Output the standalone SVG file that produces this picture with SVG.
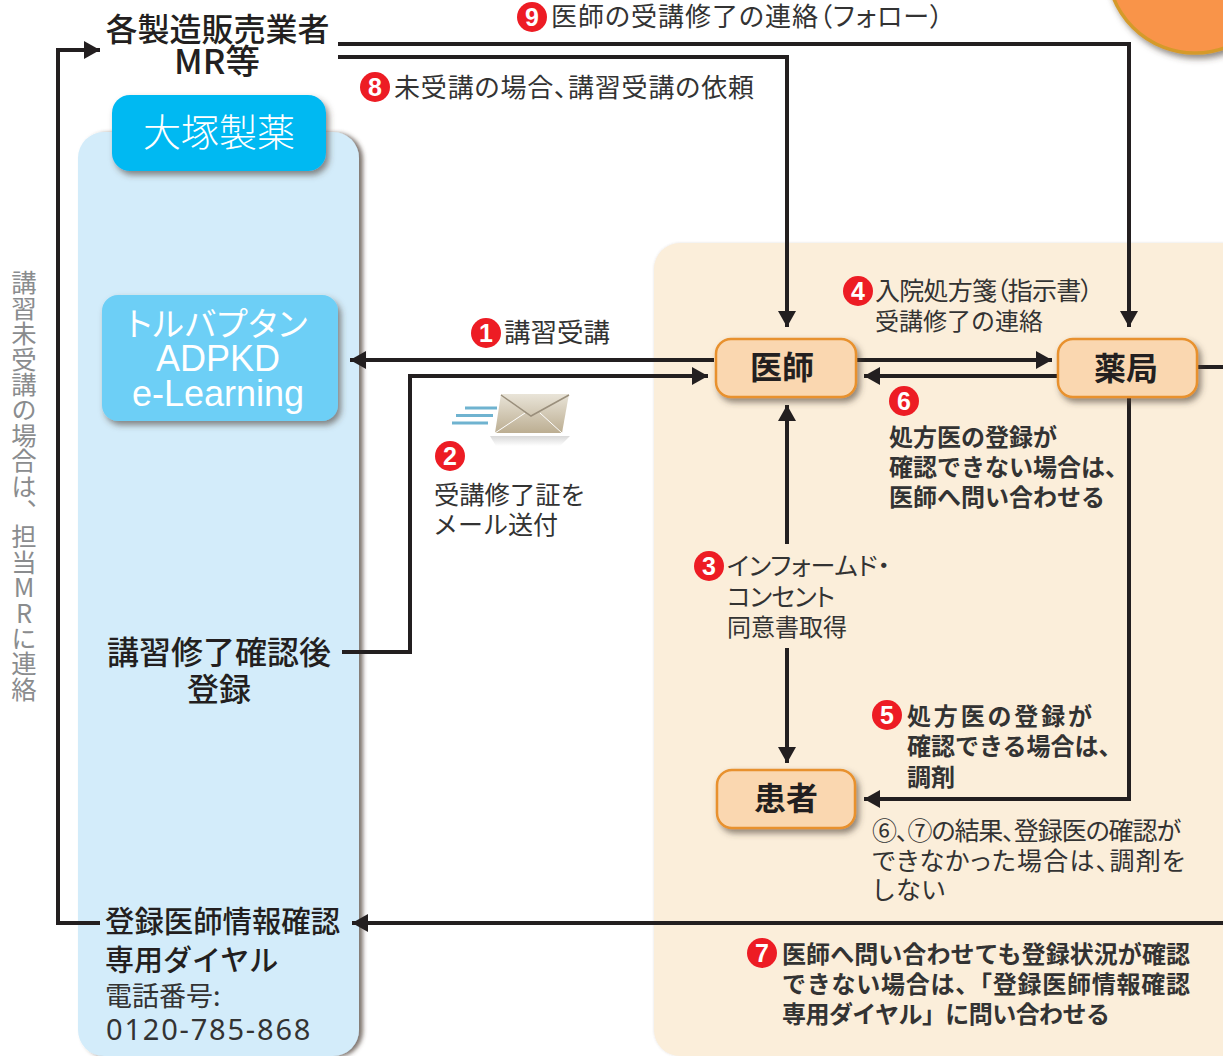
<svg xmlns="http://www.w3.org/2000/svg" width="1223" height="1056" viewBox="0 0 1223 1056">
<defs>
<filter id="sh" x="-20%" y="-20%" width="150%" height="150%"><feDropShadow dx="3" dy="4" stdDeviation="3" flood-color="#4a3a30" flood-opacity="0.6"/></filter>
<filter id="sp" x="-5%" y="-5%" width="110%" height="110%"><feDropShadow dx="4" dy="1" stdDeviation="2" flood-color="#4a3a30" flood-opacity="0.7"/></filter>
<filter id="so" x="-5%" y="-5%" width="110%" height="110%"><feDropShadow dx="0" dy="0" stdDeviation="1" flood-color="#6a5a50" flood-opacity="0.2"/></filter>
<linearGradient id="env" x1="0" y1="0" x2="0" y2="1"><stop offset="0" stop-color="#e9e4d8"/><stop offset="1" stop-color="#bcae92"/></linearGradient>
<linearGradient id="envs" x1="0" y1="0" x2="0" y2="1"><stop offset="0" stop-color="#d8d8d8"/><stop offset="1" stop-color="#fff"/></linearGradient>
<marker id="ah" markerUnits="userSpaceOnUse" markerWidth="18" markerHeight="20" refX="16" refY="9" orient="auto"><path d="M0 0L16 9L0 18Z" fill="#231f20"/></marker>
</defs>
<style>
text{font-family:"Noto Sans CJK JP","Noto Sans",sans-serif;fill:#231f20}
.c{fill:none;stroke:#231f20;stroke-width:4}
.a{marker-end:url(#ah)}
.n{fill:#ed1c24}
.d{fill:#fff;font-family:"Liberation Sans",sans-serif;font-weight:700;font-size:25px;text-anchor:middle}
.t{font-size:25px;fill:#333}
.p{font-feature-settings:"palt"}
.b{font-size:24px;font-weight:700;fill:#333}
.bx{fill:#fad7b0;stroke:#e8912d;stroke-width:2.5;filter:url(#sh)}
.nl{font-size:32px;font-weight:700;text-anchor:middle}
</style>
<g id="panels">
<rect id="otsuka-panel" x="78" y="132" width="281" height="924" rx="26" fill="#d3ecfa" filter="url(#sp)"/>
<rect id="hospital-panel" x="654" y="243" width="620" height="813" rx="26" fill="#fbeeda" filter="url(#so)"/>
<circle id="corner-circle" cx="1195" cy="-35" r="88" fill="#f9944a" stroke="#d59a2c" stroke-width="3.5" filter="url(#sh)"/>
</g>
<g id="connectors">
<path class="c a" d="M338 44H1129V327"/>
<path class="c a" d="M338 57H787V327"/>
<path class="c a" d="M100 923H58V50H100"/>
<path class="c a" d="M714 360H350"/>
<path class="c a" d="M342 652H410V376H708"/>
<path class="c a" d="M787 544V405"/>
<path class="c a" d="M787 648V763"/>
<path class="c a" d="M857 360H1052"/>
<path class="c a" d="M1057 376H864"/>
<path class="c" d="M1198 367H1223"/>
<path class="c a" d="M1129 397V799H864"/>
<path class="c a" d="M1223 923H352"/>
</g>
<g id="maker"><text x="217.500" y="41" class="nl" style="font-weight:500">各製造販売業者</text><text x="217" y="74" class="nl" style="font-weight:500;font-size:34.500px">MR等</text></g>
<g id="otsuka"><rect x="112" y="95" width="214" height="76" rx="18" fill="#00b9f2" filter="url(#sh)"/><text x="219" y="146" text-anchor="middle" font-size="38" style="fill:#fff;font-weight:300">大塚製薬</text></g>
<g id="elearning"><rect x="102" y="295" width="236" height="126" rx="16" fill="#6dcff6" filter="url(#sh)"/>
<text x="217" y="336" text-anchor="middle" font-size="33" class="p" style="fill:#fff" textLength="181">トルバプタン</text>
<text x="218" y="371" text-anchor="middle" font-size="36" style="fill:#fff;font-family:'Liberation Sans',sans-serif">ADPKD</text>
<text x="218" y="406" text-anchor="middle" font-size="36" style="fill:#fff;font-family:'Liberation Sans',sans-serif">e-Learning</text></g>
<g id="register"><text x="219" y="664" class="nl" style="font-weight:500">講習修了確認後</text><text x="219" y="701" class="nl" style="font-weight:500">登録</text></g>
<g id="dial">
<text x="105" y="932" font-size="29.400" font-weight="500">登録医師情報確認</text>
<text x="105" y="971" font-size="29" font-weight="500">専用ダイヤル</text>
<text x="105" y="1006" font-size="27" style="fill:#333">電話番号:</text>
<text x="106" y="1040" font-size="29" letter-spacing="1.800" style="fill:#333;font-family:'Noto Sans',sans-serif">0120-785-868</text>
</g>
<g id="doctor"><rect class="bx" x="716" y="339" width="140" height="58" rx="15"/><text x="782" y="379" class="nl">医師</text></g>
<g id="pharmacy"><rect class="bx" x="1058" y="339" width="139" height="58" rx="15"/><text x="1126" y="380" class="nl">薬局</text></g>
<g id="patient"><rect class="bx" x="717" y="770" width="138" height="58" rx="15"/><text x="786" y="810" class="nl">患者</text></g>
<g id="mail">
<path d="M490 436H570L560 446H496Z" fill="url(#envs)"/>
<path d="M501 394L569 394L562 433L495 433Z" fill="url(#env)"/>
<path d="M495 433L525 413M562 433L540 413" fill="none" stroke="#fff" stroke-width="1"/>
<path d="M501 395L531 416L569 395" fill="none" stroke="#9a8f7c" stroke-width="1.500"/>
<path d="M465 408H497M456 415.500H493M452 423H488" stroke="#6fb3d0" stroke-width="3"/>
</g>
<g id="labels">
<circle class="n" cx="486" cy="333" r="15"/><text class="d" x="486" y="342">1</text>
<text class="t" x="504" y="342" style="font-size:26.500px">講習受講</text>
<circle class="n" cx="450" cy="456" r="15"/><text class="d" x="450" y="465">2</text>
<text class="t" x="434" y="504" style="font-size:25.300px">受講修了証を</text><text class="t" x="433" y="534">メール送付</text>
<circle class="n" cx="709" cy="566" r="15"/><text class="d" x="709" y="575">3</text>
<text class="t p" x="727" y="575" textLength="163">インフォームド・</text><text class="t p" x="727" y="606" textLength="108">コンセント</text><text class="t" x="727" y="636" style="font-size:24px">同意書取得</text>
<circle class="n" cx="858" cy="291" r="15"/><text class="d" x="858" y="300">4</text>
<text class="t p" x="875" y="300" textLength="218">入院処方箋（指示書）</text><text class="t" x="875" y="330" style="font-size:24px">受講修了の連絡</text>
<circle class="n" cx="904" cy="401" r="15"/><text class="d" x="904" y="410">6</text>
<text class="b" x="889" y="446">処方医の登録が</text><text class="b" x="889" y="476">確認できない場合は、</text><text class="b" x="889" y="506">医師へ問い合わせる</text>
<circle class="n" cx="887" cy="715" r="15"/><text class="d" x="887" y="724">5</text>
<text class="b" x="907" y="725" textLength="185">処方医の登録が</text><text class="b" x="907" y="755">確認できる場合は、</text><text class="b" x="907" y="786">調剤</text>
<text class="t p" x="872" y="840" textLength="309">⑥、⑦の結果、登録医の確認が</text><text class="t p" x="872" y="870" textLength="313">できなかった場合は、調剤を</text><text class="t" x="871" y="899">しない</text>
<circle class="n" cx="762" cy="953" r="15"/><text class="d" x="762" y="962">7</text>
<text class="b" x="782" y="963" textLength="408">医師へ問い合わせても登録状況が確認</text><text class="b" x="782" y="993" textLength="408">できない場合は、「登録医師情報確認</text><text class="b" x="782" y="1023" textLength="328">専用ダイヤル」に問い合わせる</text>
<circle class="n" cx="375" cy="87" r="15"/><text class="d" x="375" y="96">8</text>
<text class="t p" x="394" y="97" textLength="360" style="font-size:26px">未受講の場合、講習受講の依頼</text>
<circle class="n" cx="532" cy="17" r="15"/><text class="d" x="532" y="26">9</text>
<text class="t p" x="551" y="26" textLength="392" style="font-size:26px">医師の受講修了の連絡（フォロー）</text>
<text x="24" y="270" font-size="25.400" style="writing-mode:vertical-rl;text-orientation:upright;fill:#8a8c8e">講習未受講の場合は、担当MRに連絡</text>
</g>
</svg>
